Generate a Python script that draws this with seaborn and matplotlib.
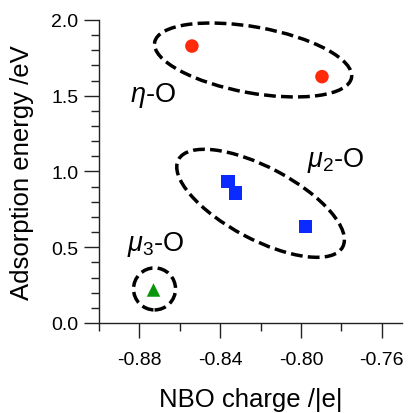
import numpy as np
import pandas as pd
import seaborn as sns
import matplotlib
matplotlib.use("Agg")
import matplotlib.pyplot as plt
from matplotlib.patches import Ellipse
from matplotlib.transforms import ScaledTranslation
from matplotlib.ticker import MultipleLocator, FormatStrFormatter

# ---- data ----
eta_charge = [-0.854, -0.7896]
eta_energy = [1.828, 1.626]
mu2_charge = [-0.8361, -0.8324, -0.7977]
mu2_energy = [0.935, 0.858, 0.638]
mu3_charge = [-0.873]
mu3_energy = [0.218]
site_labels = ["eta", "mu2", "mu3"]

df = pd.DataFrame({
    "charge": eta_charge + mu2_charge + mu3_charge,
    "energy": eta_energy + mu2_energy + mu3_energy,
    "site": ["eta"] * len(eta_charge) + ["mu2"] * len(mu2_charge) + ["mu3"] * len(mu3_charge),
})

sns.set_theme(style="ticks")
plt.rcParams["font.family"] = ["Liberation Sans", "DejaVu Sans"]
plt.rcParams["mathtext.fontset"] = "custom"
plt.rcParams["mathtext.rm"] = "Liberation Sans"
plt.rcParams["mathtext.it"] = "Liberation Sans:italic"
plt.rcParams["text.color"] = "black"
plt.rcParams["axes.labelcolor"] = "black"

fig = plt.figure(figsize=(4.08, 4.14), dpi=100)
ax = fig.add_axes([0.2426, 0.2174, 0.7426, 0.7319])

palette = {"eta": "#ff2a0a", "mu2": "#0a2aff", "mu3": "#0a960a"}
markers = {"eta": "o", "mu2": "s", "mu3": "^"}
sns.scatterplot(data=df, x="charge", y="energy", hue="site", style="site",
                palette=palette, markers=markers, s=95, linewidth=0,
                legend=False, ax=ax, zorder=3)

ax.set_xlim(-0.90, -0.75)
ax.set_ylim(0, 2.0)
ax.xaxis.set_major_locator(MultipleLocator(0.04))
ax.xaxis.set_minor_locator(MultipleLocator(0.02))
ax.yaxis.set_major_locator(MultipleLocator(0.5))
ax.yaxis.set_minor_locator(MultipleLocator(0.1))
ax.xaxis.set_major_formatter(FormatStrFormatter("%.2f"))
ax.yaxis.set_major_formatter(FormatStrFormatter("%.1f"))
ax.set_xticks([-0.88, -0.84, -0.80, -0.76])

for s in ["top", "right"]:
    ax.spines[s].set_visible(False)
for s in ["left", "bottom"]:
    ax.spines[s].set_color("#222222")
    ax.spines[s].set_linewidth(1.0)

ax.tick_params(axis="both", which="major", direction="out", length=11, width=1.0,
               color="#222222", labelsize=14, labelcolor="black")
ax.tick_params(axis="both", which="minor", direction="out", length=5.5, width=1.0,
               color="#222222")
ax.tick_params(axis="x", which="major", pad=9)
ax.tick_params(axis="y", which="major", pad=4)

ax.set_xlabel("NBO charge /|e|", fontsize=18.5, labelpad=14)
ax.set_ylabel("Adsorption energy /eV", fontsize=18.5, labelpad=12)

# ---- dashed group ellipses (centre in data coords, size in inches) ----
def group_ellipse(cx, cy, w_px, h_px, angle):
    tr = fig.dpi_scale_trans + ScaledTranslation(cx, cy, ax.transData)
    e = Ellipse((0, 0), w_px / 100, h_px / 100, angle=angle, fill=False,
                edgecolor="black", linewidth=2.5, linestyle=(0, (3.4, 1.5)),
                transform=tr, zorder=2, clip_on=False)
    ax.add_patch(e)

group_ellipse(-0.8237, 1.736, 200, 66, -10.2)
group_ellipse(-0.8200, 0.790, 186, 72, -28)
group_ellipse(-0.8725, 0.225, 42, 42, 0)

ax.text(-0.8845, 1.467, r"$\eta$-O", fontsize=19.5, ha="left", va="baseline")
ax.text(-0.797, 1.038, r"$\mu_2$-O", fontsize=19.5, ha="left", va="baseline")
ax.text(-0.886, 0.484, r"$\mu_3$-O", fontsize=19.5, ha="left", va="baseline")

fig.savefig("out.png", dpi=100)
